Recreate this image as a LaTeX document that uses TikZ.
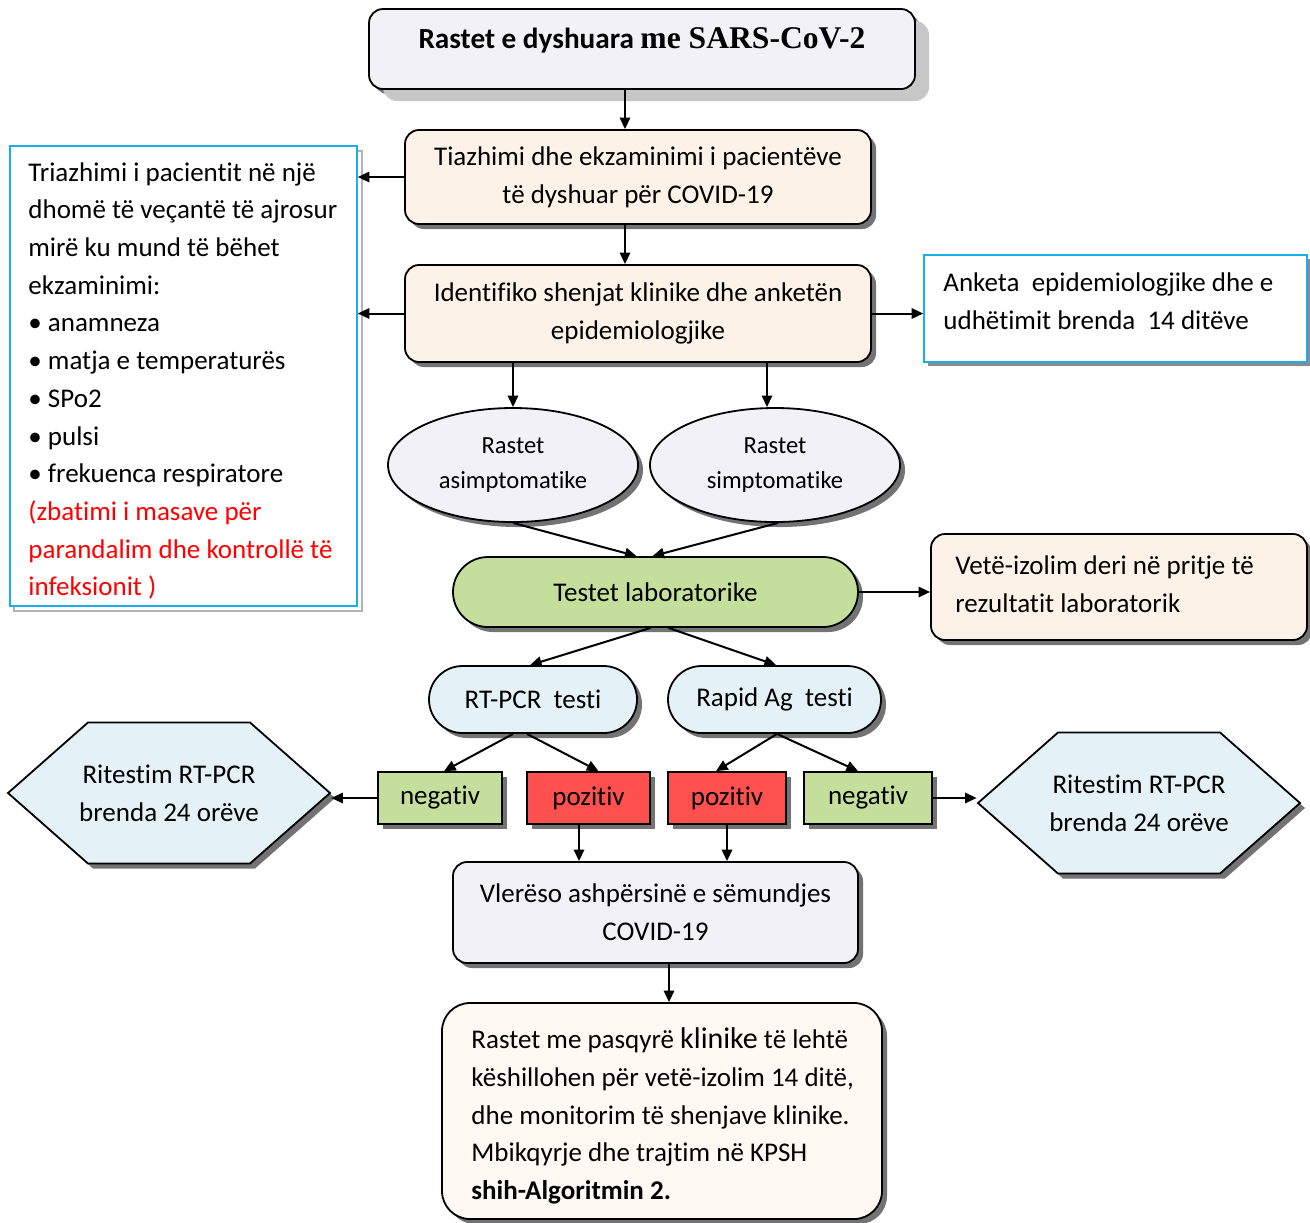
\documentclass[tikz,border=0pt]{standalone}
\usepackage{fontspec}
\setmainfont{Carlito}[Ligatures={NoCommon,NoContextual}]
\newfontfamily\serifbold{Liberation Serif}
\usetikzlibrary{arrows.meta,shapes.geometric,shapes.symbols,shadows}
\definecolor{lav}{HTML}{F2F1F7}
\definecolor{peach}{HTML}{FDF2E8}
\definecolor{lgreen}{HTML}{C4DF9B}
\definecolor{lblue}{HTML}{E4F2F7}
\definecolor{lred}{HTML}{FF5050}
\definecolor{cyanb}{HTML}{1AAFE8}
\definecolor{cream}{HTML}{FFF8F3}
\begin{document}
\begin{tikzpicture}[x=0.5pt,y=-0.5pt,
  font=\fontsize{13.5}{18.85}\selectfont,
  arr/.style={-{Triangle[length=5.8pt,width=5.2pt]}, line width=1pt},
  shad/.style={drop shadow={shadow xshift=2.5pt,shadow yshift=-2.5pt,fill=black!55,opacity=1}},
  rbox/.style={draw, line width=0.9pt, rounded corners=7pt, align=center, inner sep=0pt, shad},
  pillbox/.style={draw, line width=0.9pt, align=center, inner sep=0pt, shad},
  ellbox/.style={draw, line width=0.9pt, ellipse, fill=lav, align=center, inner sep=0pt, shad,
    minimum width=125pt, minimum height=57pt, font=\fontsize{12.3}{17.5}\selectfont},
  resbox/.style={draw, line width=0.9pt, inner sep=0pt, minimum height=26pt, shad},
  hexbox/.style={draw, line width=0.9pt, signal, signal to=west and east, signal pointer angle=82.8,
    fill=lblue, align=center, inner sep=0pt, minimum width=161pt, minimum height=70.5pt, shad},
  txt/.style={anchor=west, align=left, inner sep=0pt}
]
\useasboundingbox[fill=white] (0,0) rectangle (1310,1222);

% title
\node[rbox, fill=lav, minimum width=273pt, minimum height=40pt,
  drop shadow={shadow xshift=7pt,shadow yshift=-6pt,fill=black!22,opacity=1}] (title) at (642,49) {};
\node[inner sep=0pt, font=\fontsize{14.6}{16}\selectfont\bfseries] (titletxt) at (642,40)
  {Rastet e dyshuara {\serifbold\fontsize{15.8}{16}\selectfont me SARS-CoV-2}};

% box 2 and 3
\node[rbox, fill=peach, minimum width=233pt, minimum height=47pt] (b2) at (638,177)
  {Tiazhimi dhe ekzaminimi i pacientëve\\të dyshuar për COVID-19};
\node[rbox, fill=peach, minimum width=233pt, minimum height=48.5pt] (b3) at (638,313.5)
  {Identifiko shenjat klinike dhe anketën\\epidemiologjike};

% left box
\draw[black!30, line width=0.8pt] (14,151) rectangle (362,611);
\node[draw=cyanb, line width=0.8pt, fill=white, inner sep=0pt, minimum width=173.5pt,
  minimum height=230pt] (left) at (183.5,376) {};
\node[txt] (lefttxt) at (28,381)
  {Triazhimi i pacientit në një\\dhomë të veçantë të ajrosur\\mirë ku mund të bëhet\\ekzaminimi:\\%
   • anamneza\\• matja e temperaturës\\• SPo2\\• pulsi\\• frekuenca respiratore\\%
   \textcolor{red}{(zbatimi i masave për}\\\textcolor{red}{parandalim dhe kontrollë të}\\\textcolor{red}{infeksionit )}};

% right box anketa
\node[draw=cyanb, line width=0.8pt, fill=white, inner sep=0pt, minimum width=191.5pt, minimum height=53.5pt,
  drop shadow={shadow xshift=2pt,shadow yshift=-2.2pt,fill=black!45,opacity=1}] (ank) at (1115.5,308.5) {};
\node[txt] (anktxt) at (943,301)
  {Anketa\ \ epidemiologjike dhe e\\udhëtimit brenda\ \ 14 ditëve};

% ellipses
\node[ellbox] (e1) at (513,465) {Rastet\\asimptomatike};
\node[ellbox] (e2) at (775,465) {Rastet\\simptomatike};

% testet
\node[pillbox, fill=lgreen, minimum width=202.5pt, minimum height=35pt, rounded corners=17.5pt] (test) at (655.5,592)
  {Testet laboratorike};

% vete izolim
\node[rbox, fill=peach, minimum width=188pt, minimum height=53pt] (vete) at (1119,587) {};
\node[txt] (vetetxt) at (955,584) {Vetë-izolim deri në pritje të\\rezultatit laboratorik};

% rt-pcr and rapid
\node[pillbox, fill=lblue, minimum width=104pt, minimum height=33.5pt, rounded corners=16.75pt] (rt) at (533,699.5)
  {RT-PCR\ \ testi};
\node[pillbox, fill=lblue, minimum width=106.5pt, minimum height=33.5pt, rounded corners=16.75pt] (rap) at (774.5,699.5)
  {Rapid Ag\ \ testi};

% results
\node[resbox, fill=lgreen, minimum width=62pt] (n1) at (440,798) {negativ};
\node[resbox, fill=lred, minimum width=61.5pt] (p1) at (588.5,798) {pozitiv};
\node[resbox, fill=lred, minimum width=59pt] (p2) at (727,798) {pozitiv};
\node[resbox, fill=lgreen, minimum width=64pt] (n2) at (868,798) {negativ};

% hexagons
\node[hexbox] (h1) at (169,793)
  {\makebox[0pt]{Ritestim RT-PCR}\\\makebox[0pt]{brenda 24 orëve}};
\node[hexbox] (h2) at (1139,803)
  {\makebox[0pt]{Ritestim RT-PCR}\\\makebox[0pt]{brenda 24 orëve}};

% vleresimi
\node[rbox, fill=lav, minimum width=202.5pt, minimum height=50.5pt] (vl) at (655.5,912.5)
  {Vlerëso ashpërsinë e sëmundjes\\COVID-19};

% final
\node[rbox, fill=cream, rounded corners=14pt, minimum width=220pt, minimum height=108pt] (fin) at (662,1111) {};
\node[txt] (fintxt) at (471,1116)
  {Rastet me pasqyrë {\fontsize{15}{18.85}\selectfont klinike} të lehtë\\këshillohen për vetë-izolim 14 ditë,\\dhe monitorim të shenjave klinike.\\Mbikqyrje dhe trajtim në KPSH\\\textbf{shih-Algoritmin 2.}};

% connectors
\draw[arr] ([xshift=-8.5pt]title.south) -- ([xshift=-8.5pt]title.south |- b2.north);
\draw[arr] ([xshift=-6.5pt]b2.south) -- ([xshift=-6.5pt]b2.south |- b3.north);
\draw[arr] (b2.west) -- (b2.west -| left.east);
\draw[arr] (b3.west) -- (b3.west -| left.east);
\draw[arr] (b3.east) -- (b3.east -| ank.west);
\draw[arr] (b3.south -| e1.north) -- (e1.north);
\draw[arr] ([xshift=-4pt]e2.north |- b3.south) -- ([xshift=-4pt]e2.north);
\draw[arr] (e1.south) -- ([xshift=-9.5pt]test.north);
\draw[arr] ([xshift=1.5pt]e2.south) -- ([xshift=-1.5pt]test.north);
\draw[arr] (test.east) -- (test.east -| vete.west);
\draw[arr] ([xshift=-2.5pt]test.south) -- ([xshift=-1.5pt]rt.north);
\draw[arr] ([xshift=6.5pt]test.south) -- ([xshift=0.75pt]rap.north);
\draw[arr] ([xshift=-10pt]rt.south) -- ([xshift=2pt]n1.north);
\draw[arr] ([xshift=-3pt]rt.south) -- ([xshift=5pt]p1.north);
\draw[arr] ([xshift=1.25pt]rap.south) -- ([xshift=-5.5pt]p2.north);
\draw[arr] ([xshift=1.25pt]rap.south) -- ([xshift=-5pt]n2.north);
\draw[arr] (n1.west) -- (n1.west -| h1.east);
\draw[arr] (n2.east) -- (n2.east -| h2.west);
\draw[arr] ([xshift=-4.75pt]p1.south) -- ([xshift=-4.75pt]p1.south |- vl.north);
\draw[arr] (p2.south) -- (p2.south |- vl.north);
\draw[arr] ([xshift=6.75pt]vl.south) -- ([xshift=6.75pt]vl.south |- fin.north);
\end{tikzpicture}
\end{document}
